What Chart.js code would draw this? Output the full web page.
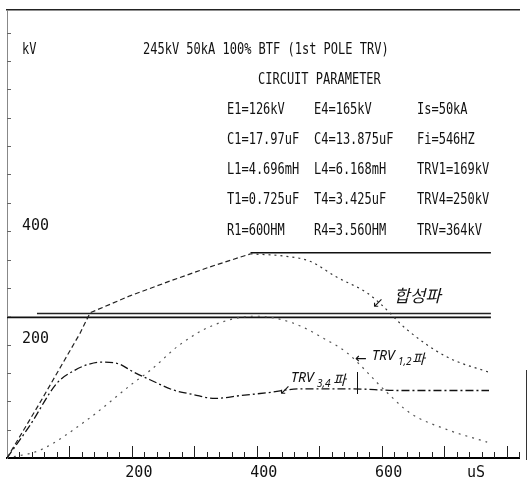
<!DOCTYPE html>
<html>
<head>
<meta charset="utf-8">
<script src="https://cdn.jsdelivr.net/npm/chart.js@4"></script>
<style>
  html, body { margin: 0; padding: 0; background: #fff; }
</style>
</head>
<body>
<canvas id="trvChart" width="529" height="485"></canvas>
<script>
// time in uS, voltage in kV
const compositeRiseTime = [0, 53, 117, 133, 197, 261, 325, 390];
const compositeRiseVolt = [0, 98, 220, 256, 286, 312, 337, 360];
const compositeFallTime = [390, 445, 485, 528, 577, 597, 641, 705, 775];
const compositeFallVolt = [360, 356, 347, 319, 291, 273, 226, 178, 150];

const trv34Time = [0, 37, 80, 109, 130, 149, 176, 202, 229, 266, 298, 333, 373, 416, 470, 549, 630, 772];
const trv34Volt = [0, 58, 132, 155, 165, 169, 167, 152, 138, 120, 112, 105, 110, 115, 122, 122, 119, 119];

const trv12Time = [0, 53, 128, 202, 230, 277, 330, 397, 458, 512, 544, 609, 646, 705, 769];
const trv12Volt = [0, 14, 67, 132, 155, 200, 234, 250, 238, 208, 186, 115, 79, 50, 28];

const trvPeakTime = [390, 775];
const trvPeakVolt = [362, 362];

const refUpperTime = [48, 775];
const refUpperVolt = [255, 255];
const refLowerTime = [0, 775];
const refLowerVolt = [248, 248];

const xTickLabels = [200, 400, 600];
const yTickLabels = [200, 400];

const paramRows = [
  ["E1=126kV", "E4=165kV", "Is=50kA"],
  ["C1=17.97uF", "C4=13.875uF", "Fi=546HZ"],
  ["L1=4.696mH", "L4=6.168mH", "TRV1=169kV"],
  ["T1=0.725uF", "T4=3.425uF", "TRV4=250kV"],
  ["R1=60OHM", "R4=3.56OHM", "TRV=364kV"]
];

function toPoints(xs, ys) {
  return xs.map((x, i) => ({ x: x, y: ys[i] }));
}

function plotText(ctx, str, x, y, size, sx) {
  ctx.save();
  ctx.translate(x, y);
  ctx.scale(sx, 1);
  ctx.font = size + "px 'DejaVu Sans Mono'";
  ctx.fillText(str, 0, 0);
  ctx.restore();
}

// inner tick marks + text of the sheet
const sheetPlugin = {
  id: "sheet",
  afterDraw(chart) {
    const ctx = chart.ctx;
    const xs = chart.scales.x;
    const ys = chart.scales.y;
    const area = chart.chartArea;

    ctx.save();
    ctx.strokeStyle = "#222";
    ctx.lineWidth = 1;
    xs.ticks.forEach(t => {
      if (t.value === 0) return;
      const px = Math.round(xs.getPixelForValue(t.value)) + 0.5;
      const len = t.value % 100 === 0 ? 12 : 6;
      ctx.beginPath();
      ctx.moveTo(px, area.bottom);
      ctx.lineTo(px, area.bottom - len);
      ctx.stroke();
    });
    ctx.strokeStyle = "#666";
    ys.ticks.forEach(t => {
      if (t.value === 0) return;
      const py = Math.round(ys.getPixelForValue(t.value)) + 0.5;
      ctx.beginPath();
      ctx.moveTo(area.left, py);
      ctx.lineTo(area.left + 4, py);
      ctx.stroke();
    });
    // short frame piece at the right edge
    ctx.strokeStyle = "#333";
    ctx.beginPath();
    ctx.moveTo(area.right + 7.5, area.bottom - 88);
    ctx.lineTo(area.right + 7.5, area.bottom + 2);
    ctx.stroke();

    ctx.fillStyle = "#111";
    ctx.textBaseline = "middle";
    plotText(ctx, "kV", 22, 50, 16, 0.75);
    plotText(ctx, "245kV 50kA 100% BTF (1st POLE TRV)", 143, 50, 16, 0.75);
    plotText(ctx, "CIRCUIT PARAMETER", 258, 80, 16, 0.75);
    const colX = [227, 314, 417];
    const rowY = [110, 140, 170, 200, 231];
    paramRows.forEach((row, r) => {
      row.forEach((s, c) => plotText(ctx, s, colX[c], rowY[r], 16, 0.75));
    });

    // handwritten notes
    ctx.font = "14px 'DejaVu Sans'";
    ctx.fillText("\u2199", 372, 303);
    ctx.fillText("\u2190", 355, 359);
    ctx.fillText("\u2199", 279, 390);
    ctx.font = "italic 17px 'Noto Sans CJK KR'";
    ctx.fillText("합성파", 394, 296);
    ctx.font = "italic 14px 'Noto Sans'";
    ctx.fillText("TRV", 372, 356);
    ctx.fillText("TRV", 291, 378);
    ctx.font = "italic 10px 'Noto Sans'";
    ctx.fillText("1,2", 398, 362);
    ctx.fillText("3,4", 317, 384);
    ctx.font = "italic 14px 'Noto Sans CJK KR'";
    ctx.fillText("파", 412, 359);
    ctx.fillText("파", 333, 380);
    ctx.strokeStyle = "#111";
    ctx.beginPath();
    ctx.moveTo(357.5, 372);
    ctx.lineTo(357.5, 394);
    ctx.stroke();
    ctx.restore();
  }
};

const ctx = document.getElementById("trvChart").getContext("2d");
new Chart(ctx, {
  type: "line",
  data: {
    datasets: [
      {
        label: "합성파",
        data: toPoints(compositeRiseTime, compositeRiseVolt),
        borderColor: "#222",
        borderWidth: 1.2,
        borderDash: [5, 3]
      },
      {
        label: "합성파 fall",
        data: toPoints(compositeFallTime, compositeFallVolt),
        borderColor: "#333",
        borderWidth: 1.2,
        borderDash: [2, 4],
        cubicInterpolationMode: "monotone"
      },
      {
        label: "TRV3,4",
        data: toPoints(trv34Time, trv34Volt),
        borderColor: "#111",
        borderWidth: 1.3,
        borderDash: [8, 3, 2, 3],
        cubicInterpolationMode: "monotone"
      },
      {
        label: "TRV1,2",
        data: toPoints(trv12Time, trv12Volt),
        borderColor: "#555",
        borderWidth: 1.2,
        borderDash: [2, 5],
        cubicInterpolationMode: "monotone"
      },
      {
        label: "TRV",
        data: toPoints(trvPeakTime, trvPeakVolt),
        borderColor: "#111",
        borderWidth: 1.6
      },
      {
        label: "ref1",
        data: toPoints(refUpperTime, refUpperVolt),
        borderColor: "#222",
        borderWidth: 1.5
      },
      {
        label: "ref2",
        data: toPoints(refLowerTime, refLowerVolt),
        borderColor: "#111",
        borderWidth: 1.8
      }
    ]
  },
  options: {
    responsive: false,
    animation: false,
    devicePixelRatio: 1,
    layout: { padding: { left: 0, right: 10, top: 0, bottom: 0 } },
    elements: { point: { radius: 0 }, line: { fill: false } },
    plugins: {
      legend: { display: false },
      tooltip: { enabled: false }
    },
    scales: {
      x: {
        type: "linear",
        position: "bottom",
        min: 0,
        max: 820,
        afterBuildTicks: s => {
          const list = [];
          for (let v = 0; v <= 820; v += 20) list.push({ value: v });
          s.ticks = list;
        },
        afterFit: s => {
          s.height = 27;
          s.paddingLeft = 0;
          s.paddingRight = 0;
        },
        grid: { display: false, drawTicks: false },
        border: { color: "#000", width: 2 },
        ticks: {
          autoSkip: false,
          maxRotation: 0,
          padding: 6,
          labelOffset: 7,
          color: "#111",
          font: { family: "'DejaVu Sans Mono'", size: 15 },
          callback: v => xTickLabels.includes(v) ? String(v) : (v === 740 ? "uS" : "")
        }
      },
      x2: {
        type: "linear",
        position: "top",
        display: true,
        min: 0,
        max: 820,
        afterFit: s => {
          s.height = 10;
          s.paddingLeft = 0;
          s.paddingRight = 0;
        },
        grid: { display: false, drawTicks: false },
        border: { color: "#222", width: 1.5 },
        ticks: { display: false }
      },
      y: {
        type: "linear",
        min: 0,
        max: 790,
        afterBuildTicks: s => {
          const list = [];
          for (let v = 0; v <= 750; v += 50) list.push({ value: v });
          s.ticks = list;
        },
        afterFit: s => {
          s.width = 7;
          s.paddingTop = 0;
          s.paddingBottom = 0;
        },
        grid: { display: false, drawTicks: false },
        border: { color: "#888", width: 1, dash: [2, 3] },
        ticks: {
          mirror: true,
          padding: 15,
          labelOffset: -5,
          color: "#111",
          font: { family: "'DejaVu Sans Mono'", size: 15 },
          callback: v => yTickLabels.includes(v) ? String(v) : ""
        }
      }
    }
  },
  plugins: [sheetPlugin]
});
</script>
</body>
</html>
